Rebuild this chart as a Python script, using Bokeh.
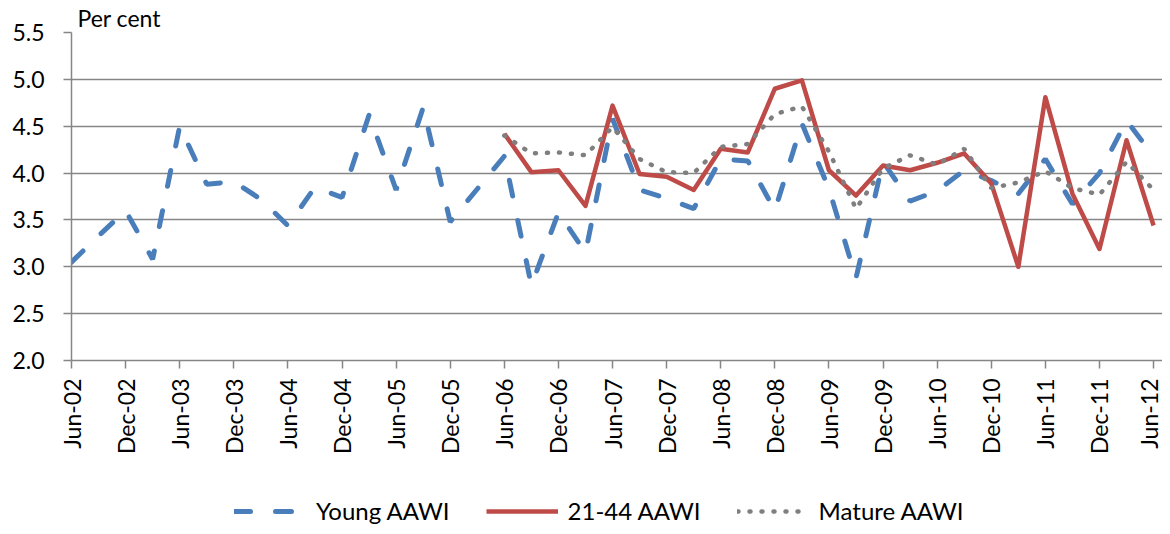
import math
from bokeh.plotting import figure
from bokeh.layouts import column
from bokeh.models import FixedTicker, Legend, LegendItem, Range1d, NumeralTickFormatter
from bokeh.embed import file_html
from bokeh.resources import INLINE

# ---- data -----------------------------------------------------------------
quarters = [
    "Jun-02", "Sep-02", "Dec-02", "Mar-03", "Jun-03", "Sep-03", "Dec-03", "Mar-04",
    "Jun-04", "Sep-04", "Dec-04", "Mar-05", "Jun-05", "Sep-05", "Dec-05", "Mar-06",
    "Jun-06", "Sep-06", "Dec-06", "Mar-07", "Jun-07", "Sep-07", "Dec-07", "Mar-08",
    "Jun-08", "Sep-08", "Dec-08", "Mar-09", "Jun-09", "Sep-09", "Dec-09", "Mar-10",
    "Jun-10", "Sep-10", "Dec-10", "Mar-11", "Jun-11", "Sep-11", "Dec-11", "Mar-12",
    "Jun-12",
]
tick_labels = [
    "Jun-02", "Dec-02", "Jun-03", "Dec-03", "Jun-04", "Dec-04", "Jun-05", "Dec-05",
    "Jun-06", "Dec-06", "Jun-07", "Dec-07", "Jun-08", "Dec-08", "Jun-09", "Dec-09",
    "Jun-10", "Dec-10", "Jun-11", "Dec-11", "Jun-12",
]
y_ticks = [2.0, 2.5, 3.0, 3.5, 4.0, 4.5, 5.0, 5.5]

young_aawi = [
    3.05, 3.33, 3.60, 3.08, 4.50, 3.88, 3.91, 3.72,
    3.44, 3.85, 3.74, 4.62, 3.82, 4.70, 3.48, 3.83,
    4.18, 2.80, 3.58, 3.15, 4.58, 3.82, 3.73, 3.62,
    4.15, 4.13, 3.60, 4.53, 3.83, 2.88, 4.12, 3.70,
    3.81, 4.03, 3.92, 3.78, 4.15, 3.67, 4.00, 4.56,
    4.18,
]
aawi_21_44 = [
    4.42, 4.01, 4.03, 3.65, 4.72, 3.99, 3.96, 3.82,
    4.26, 4.22, 4.90, 4.99, 4.03, 3.76, 4.08, 4.03,
    4.11, 4.21, 3.89, 3.00, 4.81, 3.78, 3.19, 4.35,
    3.44,
]
mature_aawi = [
    4.40, 4.21, 4.22, 4.19, 4.49, 4.15, 4.01, 4.00,
    4.28, 4.31, 4.63, 4.71, 4.23, 3.62, 4.05, 4.19,
    4.09, 4.26, 3.84, 3.90, 4.02, 3.84, 3.77, 4.12,
    3.82,
]
series_start = "Jun-06"
series_names = ["Young AAWI", "21-44 AAWI", "Mature AAWI"]

# ---- styles ---------------------------------------------------------------
FONT = "Lato"
GRID = "#868686"
styles = [
    dict(line_color="#4A7EBB", line_width=5, line_dash="16 25", line_cap="round"),
    dict(line_color="#BE4B48", line_width=4.5, line_join="round"),
    dict(line_color="#7F7F7F", line_width=4.5, line_dash="1 11", line_cap="round"),
]

x_all = list(range(len(quarters)))
s0 = quarters.index(series_start)
x_late = x_all[s0:]
series_xy = [(x_all, young_aawi), (x_late, aawi_21_44), (x_late, mature_aawi)]

# ---- main chart -----------------------------------------------------------
p = figure(
    frame_width=1091, frame_height=328,
    min_border=0,
    x_range=Range1d(0, len(quarters) - 1 + 0.33), y_range=Range1d(2.0, 5.5),
    output_backend="svg", toolbar_location=None,
)
p.outline_line_color = None
p.background_fill_color = "white"
p.border_fill_color = "white"

p.title.text = "Per cent"
p.title.align = "left"
p.title.offset = 6
p.title.standoff = 2
p.title.text_font = FONT
p.title.text_font_size = "23px"
p.title.text_font_style = "normal"
p.title.text_color = "black"

# y axis
p.yaxis.ticker = FixedTicker(ticks=y_ticks)
p.yaxis.formatter = NumeralTickFormatter(format="0.0")
p.yaxis.major_tick_out = 8
p.yaxis.major_tick_in = 0
p.yaxis.minor_tick_line_color = None
p.yaxis.axis_line_color = GRID
p.yaxis.axis_line_width = 1.5
p.yaxis.major_tick_line_color = GRID
p.yaxis.major_tick_line_width = 1.5
p.yaxis.major_label_text_font = FONT
p.yaxis.major_label_text_font_size = "23px"
p.yaxis.major_label_text_color = "black"
p.yaxis.major_label_standoff = 19
# blank axis label used only as a spacer on the far left
p.yaxis.axis_label = " "
p.yaxis.axis_label_text_font_size = "6px"
p.yaxis.axis_label_standoff = 0

# x axis
xt = [quarters.index(l) for l in tick_labels]
p.xaxis.ticker = FixedTicker(ticks=xt)
p.xaxis.major_label_overrides = {i: quarters[i] for i in xt}
p.xaxis.major_label_orientation = math.pi / 2
p.xaxis.major_tick_out = 8
p.xaxis.major_tick_in = 0
p.xaxis.minor_tick_line_color = None
p.xaxis.axis_line_color = GRID
p.xaxis.axis_line_width = 1.5
p.xaxis.major_tick_line_color = GRID
p.xaxis.major_tick_line_width = 1.5
p.xaxis.major_label_text_font = FONT
p.xaxis.major_label_text_font_size = "23px"
p.xaxis.major_label_text_color = "black"
p.xaxis.major_label_standoff = 10

p.xgrid.visible = False
p.ygrid.grid_line_color = GRID
p.ygrid.grid_line_width = 1.5

for (xs, ys), st in zip(series_xy, styles):
    p.line(xs, ys, **st)

# ---- legend strip (separate figure below the chart) ----------------------
# The series are drawn again here outside the visible range, only so that the
# legend has renderers to take its glyph styles from.
pl = figure(
    width=1154, height=69, min_border=0,
    x_range=Range1d(1000, 1001), y_range=Range1d(0, 1),
    x_axis_type=None, y_axis_type=None,
    output_backend="svg", toolbar_location=None,
)
pl.outline_line_color = None
pl.background_fill_color = "white"
pl.border_fill_color = "white"
pl.grid.visible = False

legend_renderers = [pl.line(xs, ys, **st) for (xs, ys), st in zip(series_xy, styles)]
legend = Legend(
    items=[LegendItem(label=n, renderers=[r]) for n, r in zip(series_names, legend_renderers)],
    orientation="horizontal",
    location=(163, 0),
    label_text_font=FONT, label_text_font_size="24px", label_text_color="black",
    glyph_width=72, glyph_height=24, label_height=24, label_standoff=10,
    spacing=36, padding=0, margin=0,
    border_line_color=None, background_fill_alpha=0,
)
pl.add_layout(legend, "center")

layout = column(p, pl, spacing=0)
open("out.html", "w").write(file_html(layout, INLINE))
